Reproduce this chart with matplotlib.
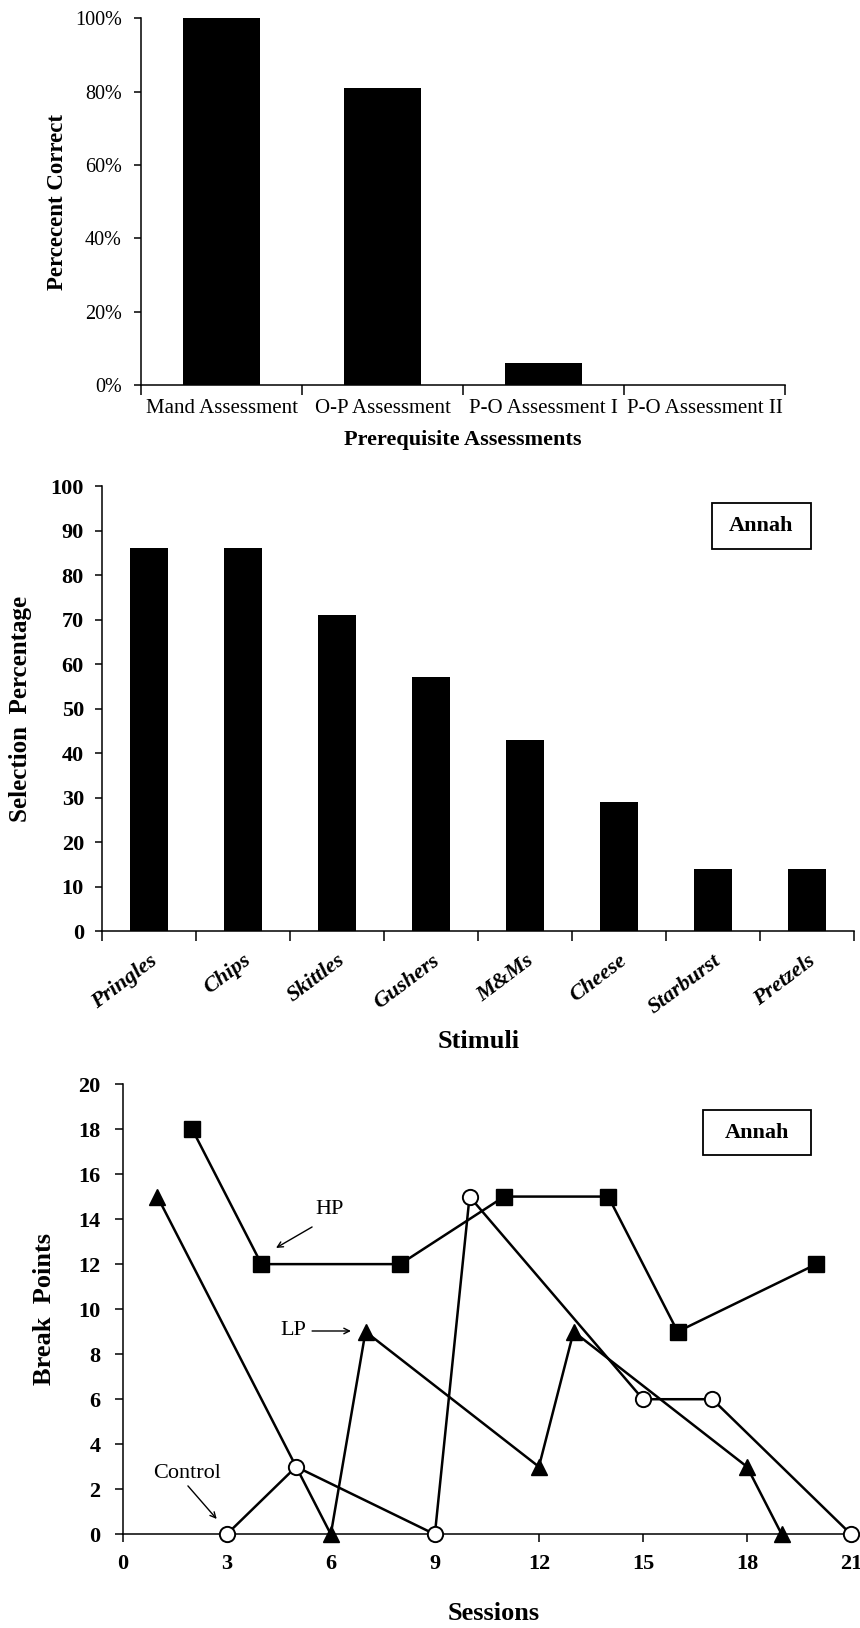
import matplotlib
matplotlib.use('Agg')
import matplotlib.pyplot as plt
from matplotlib.patches import Rectangle
import numpy as np

plt.rcParams['font.family'] = ['Liberation Serif', 'DejaVu Serif']

# panel 1: prerequisite assessments
assess_labels = ['Mand Assessment', 'O-P Assessment', 'P-O Assessment I', 'P-O Assessment II']
assess_pct = [1.00, 0.81, 0.06, 0.0]

# panel 2: preference assessment
stimuli = ['Pringles', 'Chips', 'Skittles', 'Gushers', 'M&Ms', 'Cheese', 'Starburst', 'Pretzels']
selection_pct = [86, 86, 71, 57, 43, 29, 14, 14]

# panel 3: break points across sessions
hp_sess = [2, 4, 8, 11, 14, 16, 20]
hp_bp = [18, 12, 12, 15, 15, 9, 12]
lp_sess = [1, 6, 7, 12, 13, 18, 19]
lp_bp = [15, 0, 9, 3, 9, 3, 0]
ctrl_sess = [3, 5, 9, 10, 15, 17, 21]
ctrl_bp = [0, 3, 0, 15, 6, 6, 0]

fig = plt.figure(figsize=(8.6, 16.28), dpi=100)

# ---- panel 1
ax1 = fig.add_axes([0.164, 0.7635, 0.749, 0.2252])
x1 = np.arange(len(assess_labels))
ax1.bar(x1, assess_pct, width=0.48, color='black')
ax1.set_xlim(-0.5, len(assess_labels) - 0.5)
ax1.set_ylim(0, 1)
ax1.set_yticks([0, 0.2, 0.4, 0.6, 0.8, 1.0])
ax1.set_yticklabels(['0%', '20%', '40%', '60%', '80%', '100%'], fontsize=14.5)
ax1.set_xticks(np.arange(-0.5, len(assess_labels)))
ax1.set_xticklabels([])
ax1.set_xticks(x1, minor=True)
ax1.set_xticklabels(assess_labels, minor=True, fontsize=15)
ax1.tick_params(axis='x', which='major', direction='out', length=7, width=1.1)
ax1.tick_params(axis='x', which='minor', length=0, pad=10)
ax1.tick_params(axis='y', direction='out', length=5, width=1.1, pad=9)
for s in ['top', 'right']:
    ax1.spines[s].set_visible(False)
for s in ['left', 'bottom']:
    ax1.spines[s].set_linewidth(1.1)
ax1.text(-0.130, 0.5, 'Percecent Correct', transform=ax1.transAxes, rotation=90,
         ha='center', va='center', fontsize=16.5, fontweight='bold')
ax1.text(0.5, -0.15, 'Prerequisite Assessments', transform=ax1.transAxes,
         ha='center', va='center', fontsize=16, fontweight='bold')

# ---- panel 2
ax2 = fig.add_axes([0.1186, 0.4281, 0.8744, 0.2733])
x2 = np.arange(len(stimuli))
ax2.bar(x2, selection_pct, width=0.40, color='black')
ax2.set_xlim(-0.5, len(stimuli) - 0.5)
ax2.set_ylim(0, 100)
ax2.set_yticks(range(0, 101, 10))
ax2.set_yticklabels([str(v) for v in range(0, 101, 10)], fontsize=16, fontweight='bold')
ax2.set_xticks(np.arange(-0.5, len(stimuli)))
ax2.set_xticklabels([])
ax2.set_xticks(x2, minor=True)
ax2.set_xticklabels(stimuli, minor=True, fontsize=16, fontweight='bold', style='italic',
                    rotation=37, ha='right', va='top', rotation_mode='anchor')
ax2.tick_params(axis='x', which='major', direction='out', length=7, width=1.1)
ax2.tick_params(axis='x', which='minor', length=0, pad=14)
ax2.tick_params(axis='y', direction='out', length=5, width=1.1, pad=8)
for s in ['top', 'right']:
    ax2.spines[s].set_visible(False)
for s in ['left', 'bottom']:
    ax2.spines[s].set_linewidth(1.1)
ax2.text(-0.109, 0.5, 'Selection  Percentage', transform=ax2.transAxes, rotation=90,
         ha='center', va='center', fontsize=18, fontweight='bold')
ax2.text(0.501, -0.249, 'Stimuli', transform=ax2.transAxes,
         ha='center', va='center', fontsize=19, fontweight='bold')
ax2.add_patch(Rectangle((0.8108, 0.859), 0.1316, 0.102, transform=ax2.transAxes,
                        fill=False, edgecolor='black', linewidth=1.3))
ax2.text(0.8766, 0.910, 'Annah', transform=ax2.transAxes, ha='center', va='center',
         fontsize=16, fontweight='bold')

# ---- panel 3
ax3 = fig.add_axes([0.1427, 0.05755, 0.8469, 0.2766])
ax3.plot(hp_sess, hp_bp, color='black', lw=1.8, marker='s', ms=11,
         mfc='black', mec='black', clip_on=False, zorder=3)
ax3.plot(lp_sess, lp_bp, color='black', lw=1.8, marker='^', ms=11,
         mfc='black', mec='black', clip_on=False, zorder=3)
ax3.plot(ctrl_sess, ctrl_bp, color='black', lw=1.8, marker='o', ms=11,
         mfc='white', mec='black', mew=1.4, clip_on=False, zorder=4)
ax3.set_xlim(0, 21)
ax3.set_ylim(0, 20)
ax3.set_xticks(range(0, 22, 3))
ax3.set_yticks(range(0, 21, 2))
ax3.set_xticklabels([str(v) for v in range(0, 22, 3)], fontsize=16, fontweight='bold')
ax3.set_yticklabels([str(v) for v in range(0, 21, 2)], fontsize=16, fontweight='bold')
ax3.tick_params(axis='x', direction='out', length=6, width=1.1, pad=8)
ax3.tick_params(axis='y', direction='out', length=6, width=1.1, pad=10)
for s in ['top', 'right']:
    ax3.spines[s].set_visible(False)
for s in ['left', 'bottom']:
    ax3.spines[s].set_linewidth(1.1)
ax3.text(-0.107, 0.5, 'Break  Points', transform=ax3.transAxes, rotation=90,
         ha='center', va='center', fontsize=19, fontweight='bold')
ax3.text(0.51, -0.175, 'Sessions', transform=ax3.transAxes,
         ha='center', va='center', fontsize=19, fontweight='bold')
ax3.add_patch(Rectangle((0.7968, 0.8423), 0.1483, 0.1, transform=ax3.transAxes,
                        fill=False, edgecolor='black', linewidth=1.3))
ax3.text(0.871, 0.892, 'Annah', transform=ax3.transAxes, ha='center', va='center',
         fontsize=16, fontweight='bold')

arrow = dict(arrowstyle='->', color='black', lw=1, shrinkA=0, shrinkB=0)
ax3.text(5.95, 14.43, 'HP', ha='center', va='center', fontsize=16)
ax3.annotate('', xy=(4.42, 12.72), xytext=(5.46, 13.65), arrowprops=arrow)
ax3.text(4.91, 9.03, 'LP', ha='center', va='center', fontsize=16)
ax3.annotate('', xy=(6.58, 9.03), xytext=(5.46, 9.03), arrowprops=arrow)
ax3.text(1.85, 2.68, 'Control', ha='center', va='center', fontsize=16)
ax3.annotate('', xy=(2.71, 0.68), xytext=(1.88, 2.15), arrowprops=arrow)

fig.savefig('out.png', dpi=100)
